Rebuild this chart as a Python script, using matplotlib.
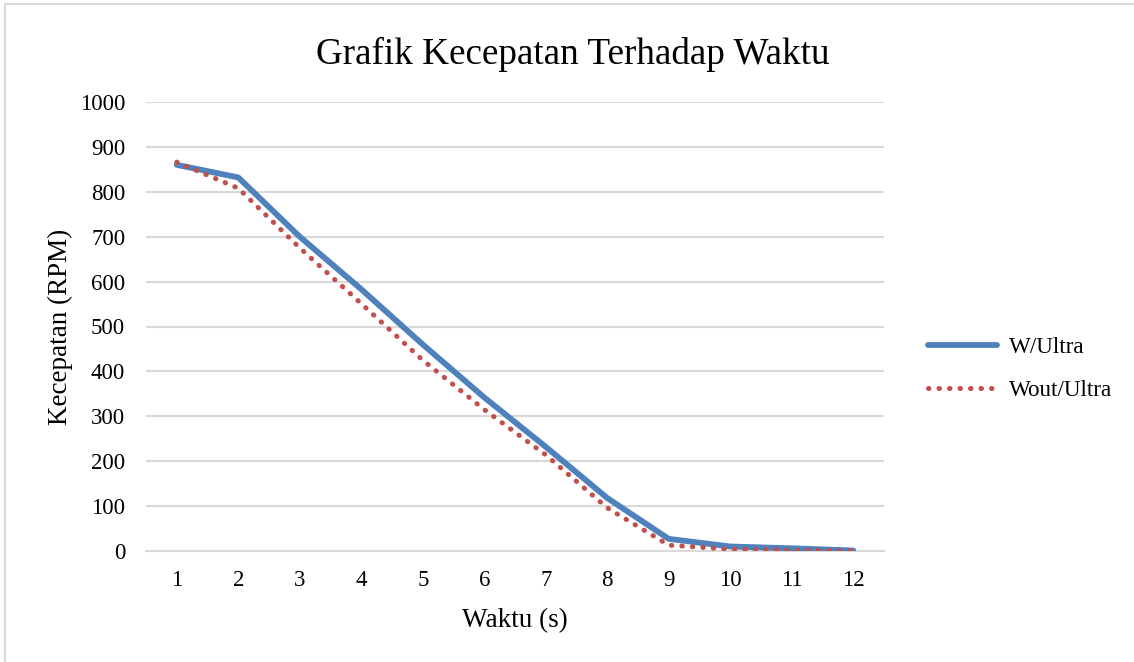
import matplotlib
matplotlib.use("Agg")
import matplotlib.pyplot as plt
from matplotlib.patches import Rectangle

plt.rcParams['font.family'] = ['Liberation Serif', 'DejaVu Serif']

# data
waktu = [1, 2, 3, 4, 5, 6, 7, 8, 9, 10, 11, 12]
w_ultra = [860, 832, 700, 583, 460, 342, 232, 118, 27, 10, 6, 1]
wout_ultra = [866, 808, 675, 551, 425, 315, 214, 96, 13, 4, 2, 1]
yticks = list(range(0, 1001, 100))

fig = plt.figure(figsize=(11.34, 6.62), dpi=100)
ax = fig.add_axes([146/1134, 1 - 551/662, (884 - 146)/1134, (551 - 102)/662])

ax.plot(waktu, w_ultra, color='#4F81BD', lw=4.2, solid_capstyle='round',
        solid_joinstyle='round', label='W/Ultra', zorder=3)
ax.plot(waktu, wout_ultra, color='#C0504D', lw=3.6, linestyle=(0, (0.1, 2)),
        dash_capstyle='round', label='Wout/Ultra', zorder=4)

ax.set_xlim(0.5, 12.5)
ax.set_ylim(0, 1000)
ax.set_xticks(waktu)
ax.set_yticks(yticks)
ax.tick_params(axis='both', length=0, labelsize=16.5, colors='black')
ax.tick_params(axis='x', pad=14)
ax.tick_params(axis='y', pad=15)
ax.grid(axis='y', color='#D9D9D9', lw=1.5)
ax.set_axisbelow(True)
for s in ['top', 'right', 'left']:
    ax.spines[s].set_visible(False)
ax.spines['bottom'].set_color('#D9D9D9')
ax.spines['bottom'].set_linewidth(1.5)

ax.set_xlabel('Waktu (s)', fontsize=19.5, labelpad=12)
ax.set_ylabel('Kecepatan (RPM)', fontsize=19.5, labelpad=5)
fig.text(573/1134, 1 - 54/662, 'Grafik Kecepatan Terhadap Waktu', fontsize=26.7,
         ha='center', va='center')

ax.legend(loc='center left', bbox_to_anchor=(907/1134, 1 - 369/662),
          bbox_transform=fig.transFigure, frameon=False, fontsize=16.7,
          handlelength=3.0, labelspacing=0.95, handletextpad=0.5)

fig.patches.append(Rectangle((5/1134, -0.05), 1.1, 1.05 - 4/662,
                             transform=fig.transFigure, fill=False,
                             edgecolor='#D9D9D9', lw=1.5))

fig.savefig('out.png', dpi=100)
